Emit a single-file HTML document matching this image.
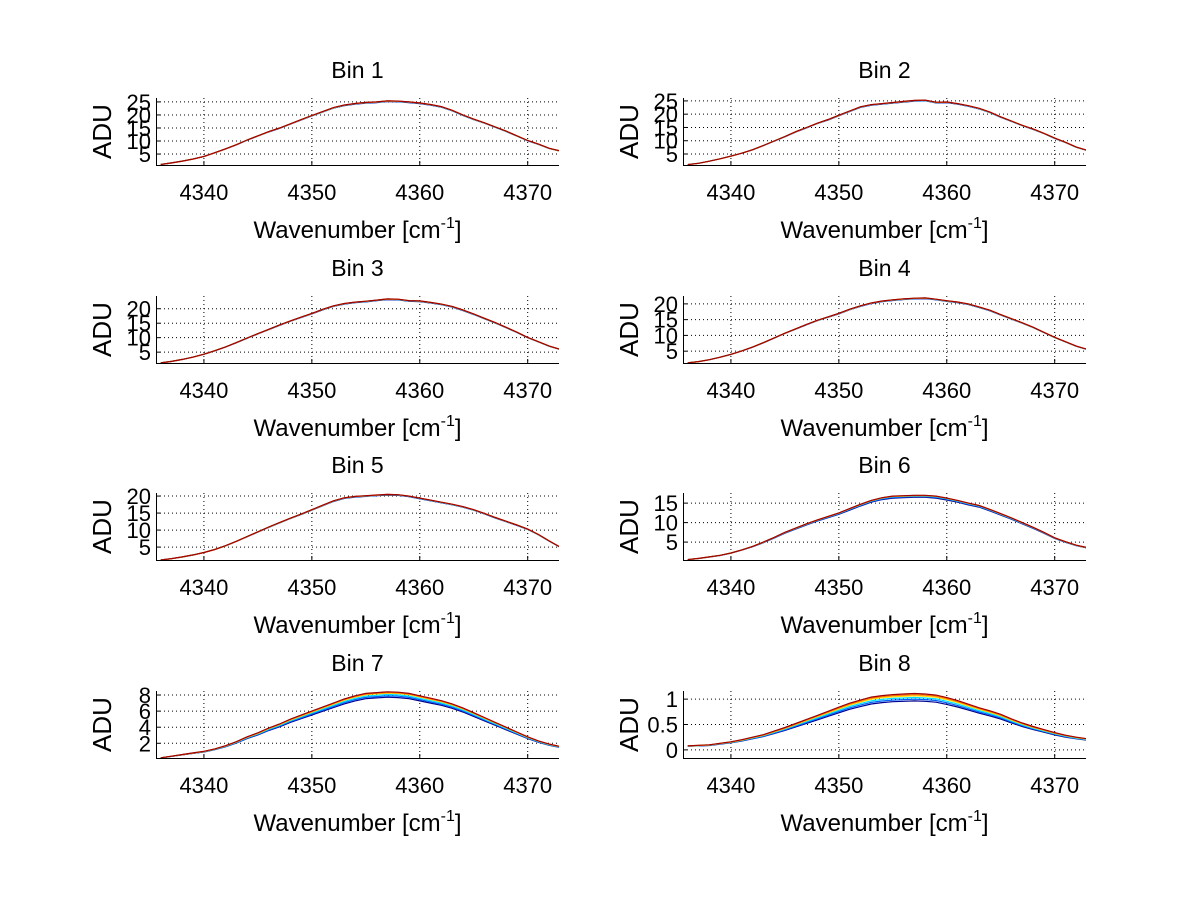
<!DOCTYPE html>
<html><head><meta charset="utf-8"><style>
body{margin:0;background:#fff;}
svg{display:block;font-family:"Liberation Sans",Arial,sans-serif;}
</style></head><body>
<svg id="fig" width="1200" height="901" viewBox="0 0 1200 901" xmlns="http://www.w3.org/2000/svg"></svg>
<script>
const wavenumbers=[4336,4337,4338,4339,4340,4341,4342,4343,4344,4345,4346,4347,4348,4349,4350,4351,4352,4353,4354,4355,4356,4357,4358,4359,4360,4361,4362,4363,4364,4365,4366,4367,4368,4369,4370,4371,4372,4373];
const xTicks=[4340,4350,4360,4370];
const binTitles=["Bin 1","Bin 2","Bin 3","Bin 4","Bin 5","Bin 6","Bin 7","Bin 8"];
const bin1=[1.0,1.6,2.3,3.1,4.1,5.5,7.0,8.6,10.4,12.0,13.6,15.0,16.6,18.2,19.8,21.3,22.8,23.8,24.4,24.8,25.0,25.4,25.3,25.0,24.6,24.0,23.2,21.8,20.0,18.4,17.0,15.4,13.8,12.0,10.2,8.8,7.2,6.2];
const bin2=[1.0,1.5,2.3,3.2,4.2,5.3,6.6,8.2,9.9,11.6,13.4,15.0,16.6,18.0,19.6,21.2,22.8,23.6,24.0,24.4,24.8,25.2,25.3,24.5,24.6,24.0,23.2,22.2,20.8,19.0,17.4,15.8,14.4,12.8,11.0,9.4,7.6,6.4];
const bin3=[1.3,1.8,2.5,3.3,4.3,5.5,6.8,8.3,9.9,11.4,12.9,14.4,15.8,17.1,18.4,19.8,21.0,21.8,22.3,22.6,23.0,23.4,23.3,22.8,22.7,22.2,21.6,20.8,19.6,18.2,16.7,15.2,13.6,11.9,10.1,8.6,7.1,6.0];
const bin4=[1.3,1.7,2.3,3.1,4.0,5.1,6.3,7.7,9.2,10.7,12.1,13.5,14.8,15.9,17.0,18.3,19.4,20.3,20.9,21.3,21.6,21.8,21.9,21.5,21.0,20.6,20.0,19.0,18.0,16.6,15.3,14.0,12.6,11.0,9.4,8.0,6.6,5.6];
const bin5=[1.2,1.6,2.1,2.7,3.4,4.3,5.4,6.7,8.1,9.5,10.9,12.2,13.5,14.7,16.0,17.3,18.6,19.5,19.9,20.1,20.3,20.5,20.4,20.0,19.4,18.8,18.2,17.6,16.9,16.0,14.9,13.7,12.6,11.5,10.3,8.7,6.8,5.0];
const bin6=[0.5,0.8,1.2,1.6,2.2,3.0,3.9,5.0,6.2,7.5,8.6,9.7,10.7,11.6,12.5,13.6,14.7,15.7,16.4,16.8,16.9,17.0,17.0,16.8,16.3,15.7,15.0,14.4,13.4,12.3,11.2,10.0,8.8,7.5,6.1,5.1,4.2,3.6];
const bin7=[0.2,0.4,0.6,0.8,1.0,1.3,1.7,2.2,2.8,3.3,3.9,4.4,5.0,5.5,6.0,6.5,7.0,7.5,7.9,8.2,8.3,8.4,8.35,8.2,7.9,7.6,7.3,6.9,6.4,5.8,5.2,4.6,4.0,3.4,2.8,2.3,1.9,1.6];
const bin8=[0.08,0.09,0.1,0.13,0.16,0.2,0.25,0.3,0.37,0.44,0.52,0.6,0.68,0.76,0.84,0.92,0.98,1.04,1.07,1.09,1.1,1.11,1.1,1.08,1.03,0.97,0.9,0.83,0.77,0.7,0.61,0.53,0.46,0.4,0.34,0.29,0.25,0.22];
const binProfiles=[bin1,bin2,bin3,bin4,bin5,bin6,bin7,bin8];
const yMins=[0.8,0.85,1.25,1.25,1.2,0.4,0.17,-0.16];
const yMaxs=[26.5,26.1,24.4,22.5,20.9,17.6,8.5,1.16];
const yTickSets=[[5,10,15,20,25],[5,10,15,20,25],[5,10,15,20],[5,10,15,20],[5,10,15,20],[5,10,15],[2,4,6,8],[0,0.5,1]];
const bin1Scales=[0.99,0.993,0.996,0.998,0.999,1.0];
const bin7Scales=[0.92,0.94,0.96,0.98,0.99,1.0];
const bin8Scales=[0.87,0.9,0.93,0.96,0.98,1.0];
const seriesScales=[bin1Scales,bin1Scales,bin1Scales,bin1Scales,bin1Scales,[0.97,0.98,0.99,0.995,0.998,1.0],bin7Scales,bin8Scales];
const seriesColors=["#00008f","#0060ff","#00e0ff","#ffe000","#ff7000","#a00000"];

const NS="http://www.w3.org/2000/svg";
const svg=document.getElementById('fig');
function mk(tag,attrs,parent){const e=document.createElementNS(NS,tag);for(const k in attrs)e.setAttribute(k,attrs[k]);(parent||svg).appendChild(e);return e;}
const XMIN=4335.56,XMAX=4372.9;
const colLeft=[156,683],AW=403,AH=67;
const rowTop=[98,296,493,691];

binProfiles.forEach((prof,b)=>{
  const col=b%2,row=Math.floor(b/2);
  const L=colLeft[col],T=rowTop[row],R=L+AW,B=T+AH;
  const g=mk('g',{});
  
  
  const xs=v=>L+(v-XMIN)/(XMAX-XMIN)*AW;
  const ys=v=>B-(v-yMins[b])/(yMaxs[b]-yMins[b])*AH;
  const clipId='clip'+b;
  const cp=mk('clipPath',{id:clipId},g);mk('rect',{x:L,y:T,width:AW,height:AH},cp);
  xTicks.forEach(t=>{const l=mk('line',{x1:xs(t),x2:xs(t),y1:T,y2:B,stroke:'#000','stroke-width':1,'stroke-dasharray':'1,3'},g);
    });
  yTickSets[b].forEach(t=>{const l=mk('line',{x1:L,x2:R,y1:ys(t),y2:ys(t),stroke:'#000','stroke-width':1,'stroke-dasharray':'1,3'},g);
    });
  const sg=mk('g',{'clip-path':'url(#'+clipId+')'},g);
  seriesScales[b].forEach((s,k)=>{
    const pts=wavenumbers.map((w,i)=>xs(w).toFixed(1)+','+ys(prof[i]*s).toFixed(1)).join(' ');
    const p=mk('polyline',{points:pts,fill:'none',stroke:seriesColors[k],'stroke-width':1.2},sg);
    
    
  });
  const ax=mk('path',{d:`M${L+0.5},${T} V${B+0.5} H${R}`,stroke:'#000','stroke-width':1,fill:'none'},g);
  
  xTicks.forEach(t=>{mk('line',{x1:xs(t),x2:xs(t),y1:B,y2:B-4,stroke:'#000'},g);
    const tx=mk('text',{x:xs(t),y:B+35,'font-size':22,'text-anchor':'middle'},g);tx.textContent=t;
    });
  yTickSets[b].forEach(t=>{mk('line',{x1:L,x2:L+4,y1:ys(t),y2:ys(t),stroke:'#000'},g);
    const tx=mk('text',{x:L-5,y:ys(t)+8,'font-size':22,'text-anchor':'end'},g);tx.textContent=t;
    });
  const ti=mk('text',{x:L+AW/2,y:T-20,'font-size':23,'text-anchor':'middle'},g);ti.textContent=binTitles[b];
  
  const xl=mk('text',{x:L+AW/2,y:B+73,'font-size':24,'text-anchor':'middle'},g);
  xl.innerHTML='Wavenumber [cm<tspan dy="-10" font-size="16">-1</tspan><tspan dy="10">]</tspan>';
  
  const yl=mk('text',{x:0,y:0,'font-size':26,'text-anchor':'middle',transform:`translate(${L-45},${T+AH/2}) rotate(-90)`},g);yl.textContent='ADU';
  
});
</script>
</body></html>
